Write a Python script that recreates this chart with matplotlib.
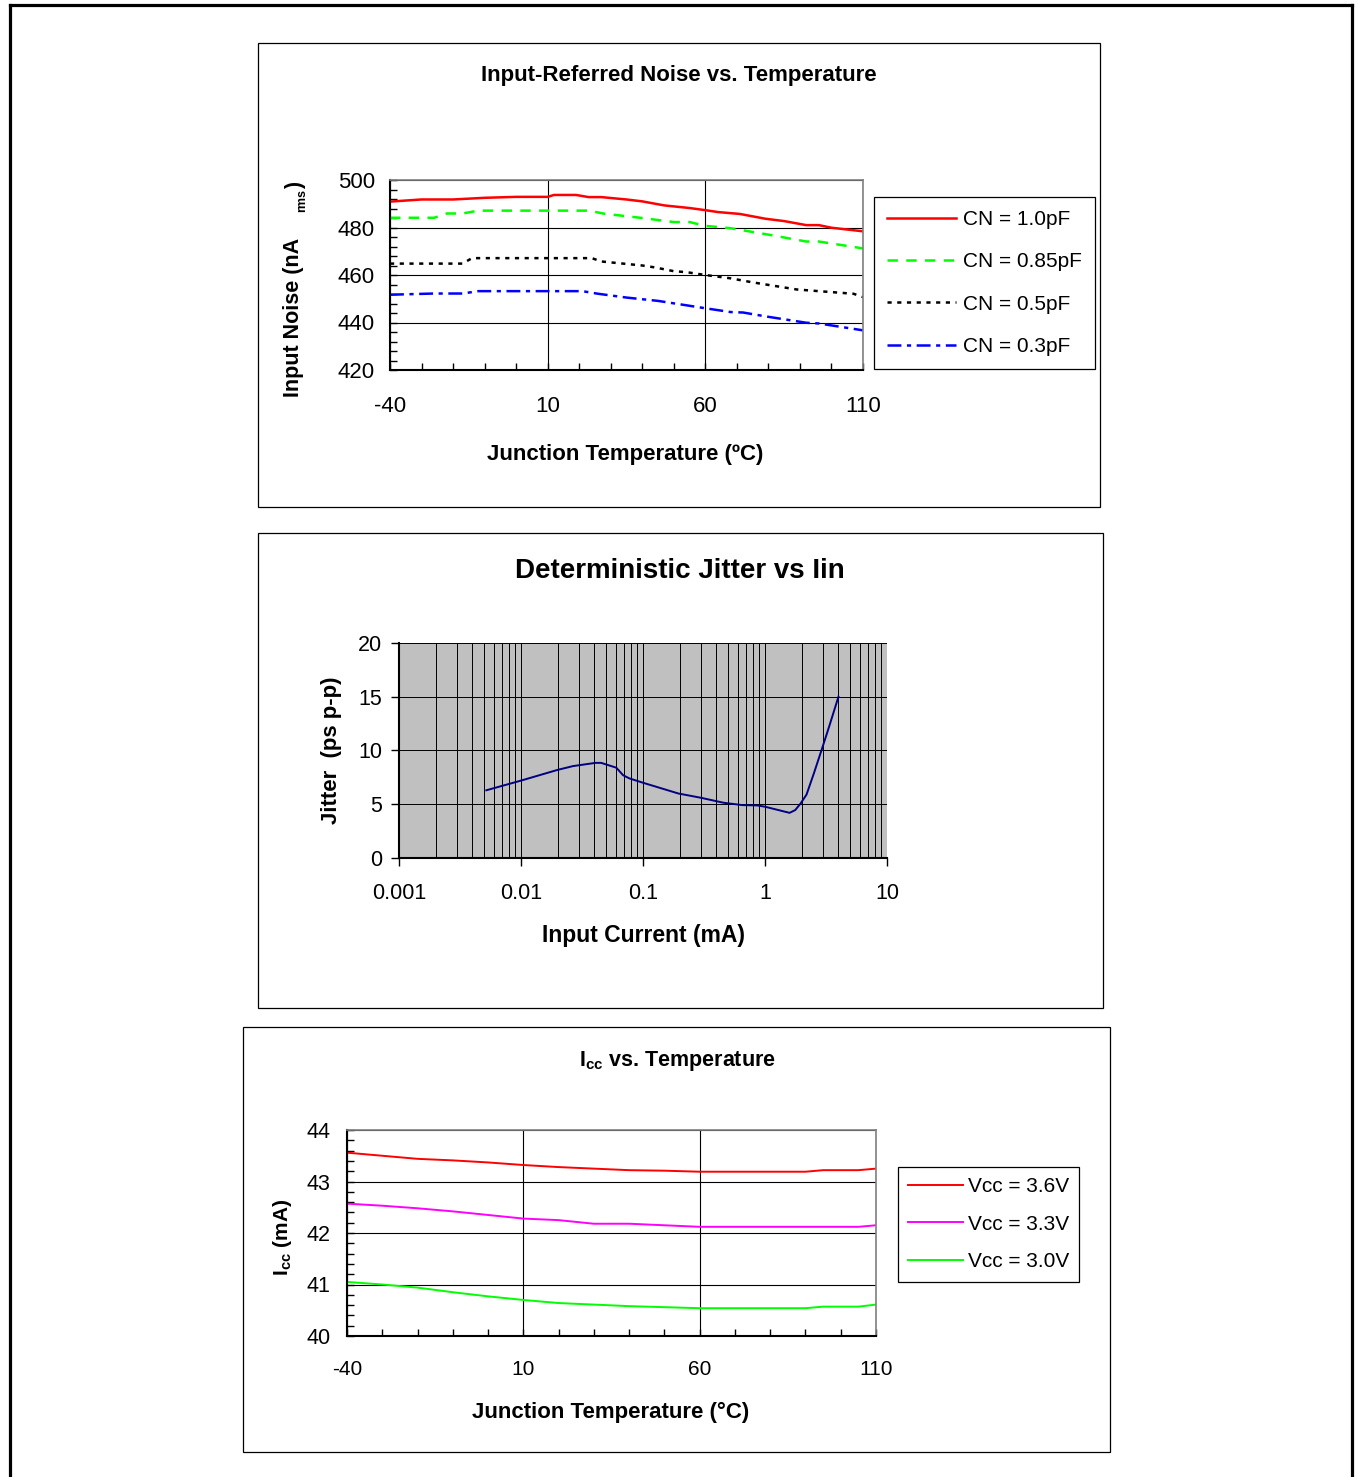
import matplotlib
matplotlib.use('Agg')
import matplotlib.pyplot as plt
from matplotlib.ticker import MultipleLocator, NullFormatter
from matplotlib.lines import Line2D
from matplotlib.patches import Rectangle

plt.rcParams['font.family'] = ['Liberation Sans', 'DejaVu Sans']
plt.rcParams['mathtext.fontset'] = 'custom'
plt.rcParams['mathtext.rm'] = 'Liberation Sans'
plt.rcParams['mathtext.bf'] = 'Liberation Sans:bold'
plt.rcParams['lines.scale_dashes'] = False
plt.rcParams['axes.unicode_minus'] = False

# --- chart 1: input-referred noise vs temperature ---
noise_labels = ['CN = 1.0pF', 'CN = 0.85pF', 'CN = 0.5pF', 'CN = 0.3pF']
t_10 = [-40, -30, -20, -10, 0, 10, 12, 19, 23, 27, 35, 40, 47, 55, 60, 64, 71, 79, 85, 92, 96, 100, 110]
n_10 = [490.9, 491.8, 491.8, 492.5, 492.9, 492.9, 493.7, 493.7, 492.8, 492.8, 491.8, 491.0,
        489.3, 488.2, 487.3, 486.5, 485.7, 483.7, 482.7, 481.0, 481.0, 479.9, 478.4]
t_085 = [-40, -26, -22, -17, -12, 23, 28, 40, 50, 55, 60, 68, 80, 92, 96, 110]
n_085 = [484.1, 484.1, 485.9, 485.9, 487.1, 487.1, 485.8, 484.0, 482.3, 482.3, 480.7, 479.7,
         477.0, 474.1, 474.1, 471.2]
t_05 = [-40, -17, -14, 24, 27, 40, 44, 50, 54, 60, 68, 75, 89, 96, 107, 110]
n_05 = [464.8, 464.8, 467.1, 467.1, 465.7, 464.0, 463.2, 461.6, 461.2, 460.0, 458.6, 456.9,
        453.9, 453.2, 452.1, 450.7]
t_03 = [-40, -26, -17, -12, 21, 26, 35, 45, 60, 68, 72, 79, 92, 96, 110]
n_03 = [451.7, 452.2, 452.2, 453.2, 453.2, 452.1, 450.5, 449.1, 446.0, 444.4, 444.2, 442.6,
        439.9, 439.6, 436.7]
temp_ticks = [-40, 10, 60, 110]
noise_ticks = [420, 440, 460, 480, 500]

# --- chart 2: deterministic jitter vs input current ---
iin_ma = [0.0052, 0.01, 0.02, 0.0267, 0.0408, 0.0454, 0.0604, 0.0687, 0.0775, 0.1, 0.195,
          0.299, 0.457, 0.653, 0.867, 1.0, 1.59, 1.77, 1.96, 2.19, 2.52, 2.9, 3.35, 4.0]
jitter_ps = [6.3, 7.2, 8.2, 8.55, 8.85, 8.85, 8.4, 7.7, 7.4, 7.0, 6.0, 5.6, 5.14, 4.92, 4.89,
             4.77, 4.2, 4.46, 5.08, 5.9, 7.9, 10.0, 12.2, 15.0]
iin_ticks = [0.001, 0.01, 0.1, 1, 10]
iin_tick_labels = ['0.001', '0.01', '0.1', '1', '10']
jitter_ticks = [0, 5, 10, 15, 20]

# --- chart 3: Icc vs temperature ---
icc_labels = ['Vcc = 3.6V', 'Vcc = 3.3V', 'Vcc = 3.0V']
icc_temp = [-40, -30, -20, -10, 0, 10, 20, 30, 40, 50, 60, 70, 80, 90, 95, 105, 110]
icc_36 = [43.56, 43.50, 43.44, 43.41, 43.37, 43.32, 43.28, 43.25, 43.22, 43.21, 43.19, 43.19,
          43.19, 43.19, 43.22, 43.22, 43.25]
icc_33 = [42.57, 42.53, 42.48, 42.42, 42.35, 42.28, 42.25, 42.18, 42.18, 42.15, 42.12, 42.12,
          42.12, 42.12, 42.12, 42.12, 42.15]
icc_30 = [41.05, 41.00, 40.94, 40.85, 40.77, 40.70, 40.64, 40.61, 40.58, 40.56, 40.54, 40.54,
          40.54, 40.54, 40.57, 40.57, 40.61]
icc_ticks = [40, 41, 42, 43, 44]

W, H = 1356, 1477
fig = plt.figure(figsize=(W / 100, H / 100), dpi=100)


def rect(x0, y0, x1, y1):   # pixel box -> figure fraction
    return [x0 / W, 1 - y1 / H, (x1 - x0) / W, (y1 - y0) / H]


def fx(x):
    return x / W


def fy(y):
    return 1 - y / H


def ftext(x, y, s, **kw):
    kw.setdefault('ha', 'center')
    kw.setdefault('va', 'center')
    fig.text(fx(x), fy(y), s, **kw)


def frame_box(x0, y0, x1, y1):
    fig.patches.append(Rectangle((fx(x0), fy(y1)), (x1 - x0) / W, (y1 - y0) / H,
                                 transform=fig.transFigure, fill=False,
                                 edgecolor='black', linewidth=0.9))


def style_spines(ax):
    ax.spines['left'].set_linewidth(1.5)
    ax.spines['bottom'].set_linewidth(1.5)
    ax.spines['top'].set_color('#808080')
    ax.spines['right'].set_color('#808080')
    ax.spines['top'].set_linewidth(1.2)
    ax.spines['right'].set_linewidth(1.2)


# outer page frame
for xs, ys in [([10, 10], [1477, 5]), ([10, 1352], [5, 5]), ([1352, 1352], [5, 1477])]:
    fig.lines.append(Line2D([fx(v) for v in xs], [fy(v) for v in ys],
                            transform=fig.transFigure, color='black', linewidth=2.3))

frame_box(258, 43, 1100, 507)
frame_box(258, 533, 1103, 1008)
frame_box(243, 1027, 1110, 1452)

# ---------------- chart 1 ----------------
ax1 = fig.add_axes(rect(390, 180, 863, 370))
ax1.plot(t_10, n_10, color='#FF0000', lw=1.8, label=noise_labels[0])
ax1.plot(t_085, n_085, color='#00FF00', lw=1.8, ls=(0, (7.5, 6)), label=noise_labels[1])
ax1.plot(t_05, n_05, color='black', lw=1.8, ls=(0, (3, 4)), label=noise_labels[2])
ax1.plot(t_03, n_03, color='#0000FF', lw=1.8, ls=(0, (10, 4, 3, 4)), label=noise_labels[3])
ax1.set_xlim(-40, 110)
ax1.set_ylim(420, 500)
ax1.set_xticks(temp_ticks)
ax1.set_yticks(noise_ticks)
ax1.xaxis.set_minor_locator(MultipleLocator(10))
ax1.yaxis.set_minor_locator(MultipleLocator(4))
ax1.grid(True, which='major', color='black', lw=0.8)
ax1.tick_params(which='both', direction='in', length=5, width=1)
ax1.tick_params(axis='x', which='major', labelsize=16, pad=19)
ax1.tick_params(axis='y', which='major', labelsize=16, pad=11)
style_spines(ax1)
leg1 = ax1.legend(loc='upper left', bbox_to_anchor=(fx(874), fy(197)),
                  bbox_transform=fig.transFigure, borderaxespad=0, fancybox=False,
                  edgecolor='black', framealpha=1, fontsize=15, handlelength=3.3,
                  handletextpad=0.35, labelspacing=1.12, borderpad=0.62)
leg1.get_frame().set_linewidth(0.9)

ftext(679, 76, 'Input-Referred Noise vs. Temperature', fontsize=16, fontweight='bold')
ftext(625, 455, 'Junction Temperature (ºC)', fontsize=16, fontweight='bold')
ftext(293, 317, 'Input Noise (nA', fontsize=15.5, fontweight='bold', rotation=90)
ftext(302, 200, 'rms', fontsize=9, fontweight='bold', rotation=90)
ftext(296, 185, ')', fontsize=15.5, fontweight='bold', rotation=90)

# ---------------- chart 2 ----------------
ax2 = fig.add_axes(rect(399, 643, 887, 858))
ax2.set_facecolor('#C0C0C0')
ax2.plot(iin_ma, jitter_ps, color='#000080', lw=1.4)
ax2.set_xscale('log')
ax2.set_xlim(0.001, 10)
ax2.set_ylim(0, 20)
ax2.set_xticks(iin_ticks)
ax2.set_xticklabels(iin_tick_labels)
ax2.xaxis.set_minor_formatter(NullFormatter())
ax2.set_yticks(jitter_ticks)
ax2.grid(True, which='both', color='black', lw=0.7)
ax2.tick_params(which='major', direction='out', length=6, width=1, labelsize=15.5)
ax2.tick_params(axis='x', which='major', pad=12)
ax2.tick_params(axis='y', which='major', pad=6)
ax2.tick_params(which='minor', length=0)
style_spines(ax2)
ax2.spines['top'].set_visible(False)
ax2.spines['right'].set_visible(False)

ftext(680, 571, 'Deterministic Jitter vs Iin', fontsize=20, fontweight='bold')
ftext(643, 935, 'Input Current (mA)', fontsize=16.5, fontweight='bold')
ftext(331, 750, 'Jitter  (ps p-p)', fontsize=16, fontweight='bold', rotation=90)

# ---------------- chart 3 ----------------
ax3 = fig.add_axes(rect(347, 1130, 876, 1336))
ax3.plot(icc_temp, icc_36, color='#FF0000', lw=1.4, label=icc_labels[0])
ax3.plot(icc_temp, icc_33, color='#FF00FF', lw=1.4, label=icc_labels[1])
ax3.plot(icc_temp, icc_30, color='#00FF00', lw=1.4, label=icc_labels[2])
ax3.set_xlim(-40, 110)
ax3.set_ylim(40, 44)
ax3.set_xticks(temp_ticks)
ax3.set_yticks(icc_ticks)
ax3.xaxis.set_minor_locator(MultipleLocator(10))
ax3.yaxis.set_minor_locator(MultipleLocator(0.2))
ax3.grid(True, which='major', color='black', lw=0.8)
ax3.tick_params(which='both', direction='in', length=5, width=1)
ax3.tick_params(axis='x', which='major', labelsize=15, pad=17)
ax3.tick_params(axis='y', which='major', labelsize=15.5, pad=12)
style_spines(ax3)
leg3 = ax3.legend(loc='upper left', bbox_to_anchor=(fx(898), fy(1167)),
                  bbox_transform=fig.transFigure, borderaxespad=0, fancybox=False,
                  edgecolor='black', framealpha=1, fontsize=15, handlelength=2.6,
                  handletextpad=0.25, labelspacing=0.88, borderpad=0.5)
leg3.get_frame().set_linewidth(0.9)

ftext(677, 1061, r'$\mathbf{I}_{\mathbf{cc}}$ vs. Temperature', fontsize=15.5, fontweight='bold')
ftext(611, 1412, 'Junction Temperature (°C)', fontsize=16, fontweight='bold')
ftext(283, 1237, r'$\mathbf{I}_{\mathbf{cc}}$ (mA)', fontsize=15, fontweight='bold', rotation=90)

fig.savefig('out.png', dpi=100)
